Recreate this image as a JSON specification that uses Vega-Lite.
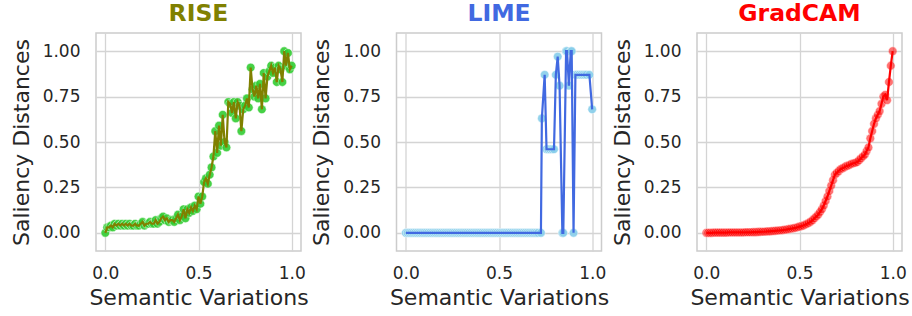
{
  "$schema": "https://vega.github.io/schema/vega-lite/v6.json",
  "autosize": {"type": "pad"},
  "padding": {"left": 9, "top": 0, "right": 8, "bottom": 5},
  "background": "white",
  "spacing": 95.5,
  "bounds": "flush",
  "datasets": {
    "rise": [
      {"x":0.00,"y":0.00},{"x":0.01,"y":0.03},{"x":0.02,"y":0.03},{"x":0.03,"y":0.04},{"x":0.04,"y":0.03},{"x":0.05,"y":0.05},{"x":0.06,"y":0.04},{"x":0.07,"y":0.05},{"x":0.08,"y":0.04},{"x":0.09,"y":0.05},
      {"x":0.10,"y":0.04},{"x":0.11,"y":0.05},{"x":0.12,"y":0.04},{"x":0.13,"y":0.05},{"x":0.14,"y":0.04},{"x":0.15,"y":0.04},{"x":0.16,"y":0.05},{"x":0.17,"y":0.04},{"x":0.18,"y":0.04},{"x":0.19,"y":0.05},
      {"x":0.20,"y":0.06},{"x":0.21,"y":0.04},{"x":0.22,"y":0.05},{"x":0.23,"y":0.05},{"x":0.24,"y":0.06},{"x":0.25,"y":0.05},{"x":0.26,"y":0.05},{"x":0.27,"y":0.07},{"x":0.28,"y":0.05},{"x":0.29,"y":0.06},
      {"x":0.30,"y":0.08},{"x":0.31,"y":0.09},{"x":0.32,"y":0.07},{"x":0.33,"y":0.08},{"x":0.34,"y":0.06},{"x":0.35,"y":0.07},{"x":0.36,"y":0.07},{"x":0.37,"y":0.06},{"x":0.38,"y":0.08},{"x":0.39,"y":0.10},
      {"x":0.40,"y":0.07},{"x":0.41,"y":0.09},{"x":0.42,"y":0.13},{"x":0.43,"y":0.08},{"x":0.44,"y":0.13},{"x":0.45,"y":0.11},{"x":0.46,"y":0.14},{"x":0.47,"y":0.12},{"x":0.48,"y":0.15},{"x":0.49,"y":0.13},
      {"x":0.50,"y":0.20},{"x":0.51,"y":0.16},{"x":0.52,"y":0.20},{"x":0.53,"y":0.28},{"x":0.54,"y":0.30},{"x":0.55,"y":0.27},{"x":0.56,"y":0.32},{"x":0.57,"y":0.36},{"x":0.58,"y":0.42},{"x":0.59,"y":0.56},
      {"x":0.60,"y":0.44},{"x":0.61,"y":0.59},{"x":0.62,"y":0.48},{"x":0.63,"y":0.65},{"x":0.64,"y":0.50},{"x":0.65,"y":0.47},{"x":0.66,"y":0.72},{"x":0.67,"y":0.71},{"x":0.68,"y":0.66},{"x":0.69,"y":0.72},
      {"x":0.70,"y":0.63},{"x":0.71,"y":0.72},{"x":0.72,"y":0.70},{"x":0.73,"y":0.56},{"x":0.74,"y":0.68},{"x":0.75,"y":0.70},{"x":0.76,"y":0.74},{"x":0.77,"y":0.69},{"x":0.78,"y":0.91},{"x":0.79,"y":0.79},
      {"x":0.80,"y":0.75},{"x":0.81,"y":0.81},{"x":0.82,"y":0.74},{"x":0.83,"y":0.82},{"x":0.84,"y":0.68},{"x":0.85,"y":0.88},{"x":0.86,"y":0.74},{"x":0.87,"y":0.86},{"x":0.88,"y":0.89},{"x":0.89,"y":0.92},
      {"x":0.90,"y":0.88},{"x":0.91,"y":0.91},{"x":0.92,"y":0.83},{"x":0.93,"y":0.92},{"x":0.94,"y":0.90},{"x":0.95,"y":0.83},{"x":0.96,"y":1.00},{"x":0.97,"y":0.92},{"x":0.98,"y":0.99},{"x":0.99,"y":0.90},
      {"x":1.00,"y":0.92}
    ],
    "lime": [
      {"x":0.00,"y":0},{"x":0.01,"y":0},{"x":0.02,"y":0},{"x":0.03,"y":0},{"x":0.04,"y":0},{"x":0.05,"y":0},{"x":0.06,"y":0},{"x":0.07,"y":0},{"x":0.08,"y":0},{"x":0.09,"y":0},
      {"x":0.10,"y":0},{"x":0.11,"y":0},{"x":0.12,"y":0},{"x":0.13,"y":0},{"x":0.14,"y":0},{"x":0.15,"y":0},{"x":0.16,"y":0},{"x":0.17,"y":0},{"x":0.18,"y":0},{"x":0.19,"y":0},
      {"x":0.20,"y":0},{"x":0.21,"y":0},{"x":0.22,"y":0},{"x":0.23,"y":0},{"x":0.24,"y":0},{"x":0.25,"y":0},{"x":0.26,"y":0},{"x":0.27,"y":0},{"x":0.28,"y":0},{"x":0.29,"y":0},
      {"x":0.30,"y":0},{"x":0.31,"y":0},{"x":0.32,"y":0},{"x":0.33,"y":0},{"x":0.34,"y":0},{"x":0.35,"y":0},{"x":0.36,"y":0},{"x":0.37,"y":0},{"x":0.38,"y":0},{"x":0.39,"y":0},
      {"x":0.40,"y":0},{"x":0.41,"y":0},{"x":0.42,"y":0},{"x":0.43,"y":0},{"x":0.44,"y":0},{"x":0.45,"y":0},{"x":0.46,"y":0},{"x":0.47,"y":0},{"x":0.48,"y":0},{"x":0.49,"y":0},
      {"x":0.50,"y":0},{"x":0.51,"y":0},{"x":0.52,"y":0},{"x":0.53,"y":0},{"x":0.54,"y":0},{"x":0.55,"y":0},{"x":0.56,"y":0},{"x":0.57,"y":0},{"x":0.58,"y":0},{"x":0.59,"y":0},
      {"x":0.60,"y":0},{"x":0.61,"y":0},{"x":0.62,"y":0},{"x":0.63,"y":0},{"x":0.64,"y":0},{"x":0.65,"y":0},{"x":0.66,"y":0},{"x":0.67,"y":0},{"x":0.68,"y":0},{"x":0.69,"y":0},
      {"x":0.70,"y":0},{"x":0.71,"y":0},{"x":0.725,"y":0},{"x":0.73,"y":0.63},{"x":0.745,"y":0.87},{"x":0.755,"y":0.46},{"x":0.765,"y":0.46},{"x":0.775,"y":0.46},{"x":0.785,"y":0.46},{"x":0.795,"y":0.46},
      {"x":0.805,"y":0.87},{"x":0.815,"y":0.97},{"x":0.825,"y":0.81},{"x":0.84,"y":0},{"x":0.845,"y":0},{"x":0.86,"y":1.0},{"x":0.865,"y":1.0},{"x":0.875,"y":0.81},{"x":0.885,"y":1.0},{"x":0.89,"y":1.0},
      {"x":0.90,"y":0},{"x":0.91,"y":0.87},{"x":0.92,"y":0.87},{"x":0.93,"y":0.87},{"x":0.94,"y":0.87},{"x":0.95,"y":0.87},{"x":0.96,"y":0.87},{"x":0.97,"y":0.87},{"x":0.985,"y":0.87},{"x":1.00,"y":0.68}
    ],
    "gradcam": [
      {"x":0.00,"y":0.000},{"x":0.01,"y":0.000},{"x":0.02,"y":0.000},{"x":0.03,"y":0.000},{"x":0.04,"y":0.001},{"x":0.05,"y":0.001},{"x":0.06,"y":0.001},{"x":0.07,"y":0.001},{"x":0.08,"y":0.001},{"x":0.09,"y":0.001},
      {"x":0.10,"y":0.001},{"x":0.11,"y":0.001},{"x":0.12,"y":0.002},{"x":0.13,"y":0.002},{"x":0.14,"y":0.002},{"x":0.15,"y":0.002},{"x":0.16,"y":0.002},{"x":0.17,"y":0.002},{"x":0.18,"y":0.002},{"x":0.19,"y":0.002},
      {"x":0.20,"y":0.002},{"x":0.21,"y":0.003},{"x":0.22,"y":0.003},{"x":0.23,"y":0.003},{"x":0.24,"y":0.003},{"x":0.25,"y":0.004},{"x":0.26,"y":0.004},{"x":0.27,"y":0.004},{"x":0.28,"y":0.005},{"x":0.29,"y":0.005},
      {"x":0.30,"y":0.006},{"x":0.31,"y":0.006},{"x":0.32,"y":0.007},{"x":0.33,"y":0.008},{"x":0.34,"y":0.008},{"x":0.35,"y":0.009},{"x":0.36,"y":0.010},{"x":0.37,"y":0.011},{"x":0.38,"y":0.012},{"x":0.39,"y":0.013},
      {"x":0.40,"y":0.014},{"x":0.41,"y":0.015},{"x":0.42,"y":0.017},{"x":0.43,"y":0.018},{"x":0.44,"y":0.020},{"x":0.45,"y":0.022},{"x":0.46,"y":0.024},{"x":0.47,"y":0.026},{"x":0.48,"y":0.028},{"x":0.49,"y":0.031},
      {"x":0.50,"y":0.034},{"x":0.51,"y":0.037},{"x":0.52,"y":0.040},{"x":0.53,"y":0.045},{"x":0.54,"y":0.050},{"x":0.55,"y":0.055},{"x":0.56,"y":0.062},{"x":0.57,"y":0.070},{"x":0.58,"y":0.080},{"x":0.59,"y":0.090},
      {"x":0.60,"y":0.100},{"x":0.61,"y":0.115},{"x":0.62,"y":0.130},{"x":0.63,"y":0.150},{"x":0.64,"y":0.175},{"x":0.65,"y":0.200},{"x":0.66,"y":0.230},{"x":0.67,"y":0.260},{"x":0.68,"y":0.290},{"x":0.69,"y":0.320},
      {"x":0.70,"y":0.330},{"x":0.71,"y":0.340},{"x":0.72,"y":0.350},{"x":0.73,"y":0.355},{"x":0.74,"y":0.360},{"x":0.75,"y":0.367},{"x":0.76,"y":0.370},{"x":0.77,"y":0.375},{"x":0.78,"y":0.380},{"x":0.79,"y":0.383},
      {"x":0.80,"y":0.386},{"x":0.81,"y":0.390},{"x":0.82,"y":0.400},{"x":0.83,"y":0.410},{"x":0.84,"y":0.420},{"x":0.85,"y":0.430},{"x":0.86,"y":0.450},{"x":0.87,"y":0.470},{"x":0.88,"y":0.520},{"x":0.89,"y":0.560},
      {"x":0.90,"y":0.600},{"x":0.91,"y":0.630},{"x":0.92,"y":0.650},{"x":0.93,"y":0.670},{"x":0.94,"y":0.710},{"x":0.95,"y":0.750},{"x":0.96,"y":0.760},{"x":0.97,"y":0.730},{"x":0.98,"y":0.830},{"x":0.99,"y":0.920},
      {"x":1.00,"y":1.000}
    ]
  },
  "hconcat": [
    {
      "width": 205, "height": 218,
      "title": {"text": "RISE", "color": "#808000"},
      "data": {"name": "rise"},
      "encoding": {
        "x": {"field": "x", "type": "quantitative", "scale": {"domain": [-0.05, 1.05], "nice": false, "zero": false}, "axis": {"values": [0, 0.5, 1], "format": ".1f", "title": "Semantic Variations"}},
        "y": {"field": "y", "type": "quantitative", "scale": {"domain": [-0.1, 1.1], "nice": false, "zero": false}, "axis": {"values": [0, 0.25, 0.5, 0.75, 1], "format": ".2f", "title": "Saliency Distances"}}
      },
      "layer": [
        {"mark": {"type": "point", "filled": true, "size": 75, "fill": "#32CD32", "opacity": 0.9, "stroke": "white", "strokeWidth": 0.5}},
        {"mark": {"type": "line", "color": "#808000", "strokeWidth": 2.2}}
      ]
    },
    {
      "width": 205, "height": 218,
      "title": {"text": "LIME", "color": "#4169E1"},
      "data": {"name": "lime"},
      "encoding": {
        "x": {"field": "x", "type": "quantitative", "scale": {"domain": [-0.05, 1.05], "nice": false, "zero": false}, "axis": {"values": [0, 0.5, 1], "format": ".1f", "title": "Semantic Variations"}},
        "y": {"field": "y", "type": "quantitative", "scale": {"domain": [-0.1, 1.1], "nice": false, "zero": false}, "axis": {"values": [0, 0.25, 0.5, 0.75, 1], "format": ".2f", "title": "Saliency Distances"}}
      },
      "layer": [
        {"mark": {"type": "point", "filled": true, "size": 75, "fill": "#87CEEB", "opacity": 0.9, "stroke": "white", "strokeWidth": 0.5}},
        {"mark": {"type": "line", "color": "#4169E1", "strokeWidth": 2.2}}
      ]
    },
    {
      "width": 205, "height": 218,
      "title": {"text": "GradCAM", "color": "#FF0000"},
      "data": {"name": "gradcam"},
      "encoding": {
        "x": {"field": "x", "type": "quantitative", "scale": {"domain": [-0.05, 1.05], "nice": false, "zero": false}, "axis": {"values": [0, 0.5, 1], "format": ".1f", "title": "Semantic Variations"}},
        "y": {"field": "y", "type": "quantitative", "scale": {"domain": [-0.1, 1.1], "nice": false, "zero": false}, "axis": {"values": [0, 0.25, 0.5, 0.75, 1], "format": ".2f", "title": "Saliency Distances"}}
      },
      "layer": [
        {"mark": {"type": "point", "filled": true, "size": 75, "fill": "#FF0000", "opacity": 0.55, "stroke": "white", "strokeWidth": 0.5}},
        {"mark": {"type": "line", "color": "#FF0000", "strokeWidth": 2.2}}
      ]
    }
  ],
  "config": {
    "font": "DejaVu Sans",
    "view": {"stroke": "#cccccc", "strokeWidth": 1.5},
    "axis": {
      "grid": true, "gridColor": "#d4d4d4", "gridWidth": 1.3,
      "domain": false, "ticks": false,
      "labelFont": "DejaVu Sans", "labelFontSize": 17, "labelColor": "#262626",
      "titleFont": "DejaVu Sans", "titleFontSize": 22, "titleFontWeight": "normal", "titleColor": "#262626"
    },
    "axisX": {"labelPadding": 14, "titlePadding": 6},
    "axisY": {"labelPadding": 16, "titlePadding": 9},
    "title": {"font": "DejaVu Sans", "fontSize": 23.5, "fontWeight": "bold", "anchor": "middle", "frame": "group", "offset": 8, "baseline": "alphabetic"}
  }
}
